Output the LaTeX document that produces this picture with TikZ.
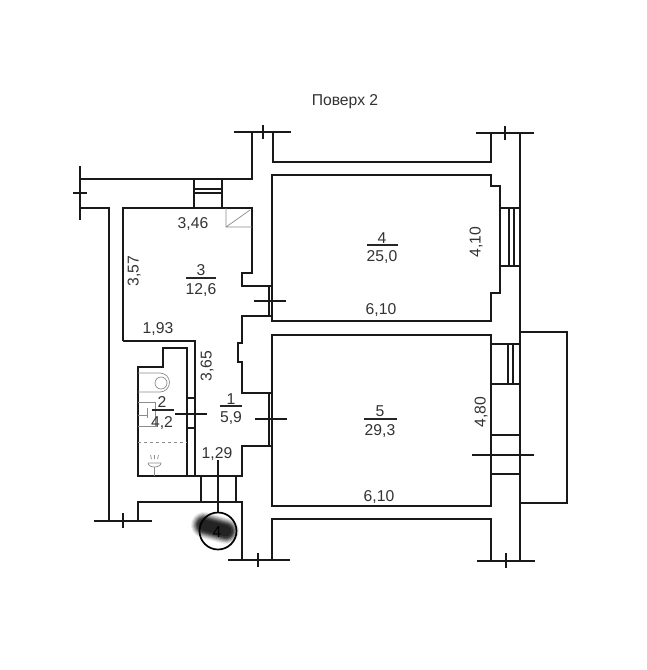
\documentclass[tikz,border=0pt]{standalone}
\usepackage{fontspec}
\setmainfont{Liberation Sans}
\begin{document}
\begin{tikzpicture}[x=1pt,y=-1pt,
  wall/.style={line width=1.7pt,black!90,line cap=butt,line join=miter},
  thin/.style={line width=0.7pt,black!45},
  lbl/.style={inner sep=0pt,font=\fontsize{15.7}{16}\selectfont,text=black!80,text height=11pt,text depth=0pt},
  rlbl/.style={lbl,rotate=90},
  fracbar/.style={line width=1.4pt,black!85}]
\useasboundingbox (0,0) rectangle (647,670);
\fill[white] (0,0) rectangle (647,670);
% outer and inner walls
\draw[wall] (80,179) -- (252,179) -- (252,132);
\draw[wall] (234,132) -- (291,132);
\draw[wall] (273,132) -- (273,162) -- (491,162) -- (491,133);
\draw[wall] (476,133) -- (534,133);
\draw[wall] (520,133) -- (520,561);
\draw[wall] (477,561) -- (535,561);
\draw[wall] (80,166) -- (80,220);
\draw[wall] (73,193) -- (87,193);
\draw[wall] (263,125) -- (263,139);
\draw[wall] (505,126) -- (505,140);
\draw[wall] (506,553) -- (506,568);
\draw[wall] (80,208) -- (109,208) -- (109,521);
\draw[wall] (94,521) -- (152,521);
\draw[wall] (123,513) -- (123,528);
\draw[wall] (138,521) -- (138,502) -- (242,502) -- (242,560);
\draw[wall] (228,560) -- (290,560);
\draw[wall] (258,553) -- (258,567);
\draw[wall] (272,560) -- (272,519) -- (491,519) -- (491,561);
% room 4
\draw[wall] (272,286) -- (272,175) -- (491,175) -- (491,186) -- (500,186) -- (500,293) -- (491,293) -- (491,321) -- (272,321) -- (272,316);
% room 5
\draw[wall] (272,393) -- (272,335) -- (491,335) -- (491,506) -- (272,506) -- (272,446);
% room 3 and corridor
\draw[wall] (123,341) -- (123,208) -- (252,208) -- (252,273) -- (242,273) -- (242,286) -- (272,286);
\draw[wall] (272,316) -- (242,316) -- (242,343) -- (238,343) -- (238,362) -- (242,362) -- (242,393) -- (272,393);
\draw[wall] (272,446) -- (242,446) -- (242,476) -- (138,476) -- (138,367) -- (163,367) -- (163,348) -- (187,348) -- (187,476);
\draw[wall] (123,341) -- (195,341) -- (195,476);
% doors
\draw[wall] (269,286) -- (269,316) (272,286) -- (272,316);
\draw[wall] (269,393) -- (269,446) (272,393) -- (272,446);
\draw[wall] (187,398) -- (195,398) (187,428) -- (195,428);
\draw[wall] (201,476) -- (201,502) (236,476) -- (236,502);
% windows
\draw[wall] (194,179) -- (194,208) (222,179) -- (222,208) (194,189) -- (222,189) (194,193) -- (222,193);
\draw[wall] (500,208) -- (520,208) (500,266) -- (520,266) (509,208) -- (509,266) (514,208) -- (514,266);
\draw[wall] (491,344) -- (520,344) (491,384) -- (520,384) (508,344) -- (508,384) (513,344) -- (513,384);
\draw[wall] (491,435) -- (520,435) (491,474) -- (520,474);
% balcony
\draw[wall] (520,332) -- (567,332) -- (567,503) -- (520,503);
% section ticks
\draw[wall] (472,455) -- (534,455);
\draw[wall] (254,301) -- (286,301);
\draw[wall] (255,419) -- (287,419);
\draw[wall] (175,414) -- (207,414);
% fixtures
\draw[thin] (226,208) -- (226,227) -- (252,227) (226,227) -- (250,210);
\draw[thin] (138,373) -- (160,373) arc (-90:90:9.5) -- (138,392);
\draw[thin] (161,383) circle (6);
\draw[thin] (138,402) -- (155,402) -- (155,426) -- (138,426);
\draw[thin] (147,408) -- (147,418) (138,415) -- (147,415);
\draw[thin,dashed] (138,442) -- (187,442);
\draw[thin] (148,463) -- (161,463) arc (0:180:6.5 and 4);
\draw[thin] (154.5,467) -- (154.5,476);
\draw[thin] (151.5,459) -- (150.5,455) (154.5,459) -- (154.5,455) (157.5,459) -- (158.5,455);
% stamp smudge
\foreach \w/\o in {26/.08,24/.10,22/.14,20/.18,18/.22,16/.28,14/.32,11/.35}
  \draw[line width=\w pt,line cap=round,black,opacity=\o] (204,525) -- (226,531);
\draw[wall] (218,460) -- (218,513);
\draw[line width=1.7pt,black] (218,531) circle (18.5);
% fraction bars
\draw[fracbar] (186,278) -- (216,278);
\draw[fracbar] (152,410) -- (174,410);
\draw[fracbar] (220,406) -- (242,406);
\draw[fracbar] (367,245) -- (398,245);
\draw[fracbar] (364,419) -- (397,419);
% texts
\node[lbl] (t0) at (345,100) {Поверх 2};
\node[lbl] (a1) at (193,223) {3,46};
\node[rlbl] (a2) at (133,271) {3,57};
\node[lbl] (a3) at (201,270) {3};
\node[lbl] (a4) at (201,289) {12,6};
\node[lbl] (a5) at (158,328) {1,93};
\node[rlbl] (a6) at (206,366) {3,65};
\node[lbl] (a7) at (162,402) {2};
\node[lbl] (a8) at (162,422) {4,2};
\node[lbl] (a9) at (231,399) {1};
\node[lbl] (a10) at (231,417) {5,9};
\node[lbl] (a11) at (217,453) {1,29};
\node[lbl] (a12) at (382,238) {4};
\node[lbl] (a13) at (382,256) {25,0};
\node[rlbl] (a14) at (475,242) {4,10};
\node[lbl] (a15) at (381,309) {6,10};
\node[lbl] (a16) at (380,411) {5};
\node[lbl] (a17) at (380,430) {29,3};
\node[rlbl] (a18) at (480,412) {4,80};
\node[lbl] (a19) at (379,496) {6,10};
\node[lbl,text=black] (a20) at (217,532) {4};
\end{tikzpicture}
\end{document}
